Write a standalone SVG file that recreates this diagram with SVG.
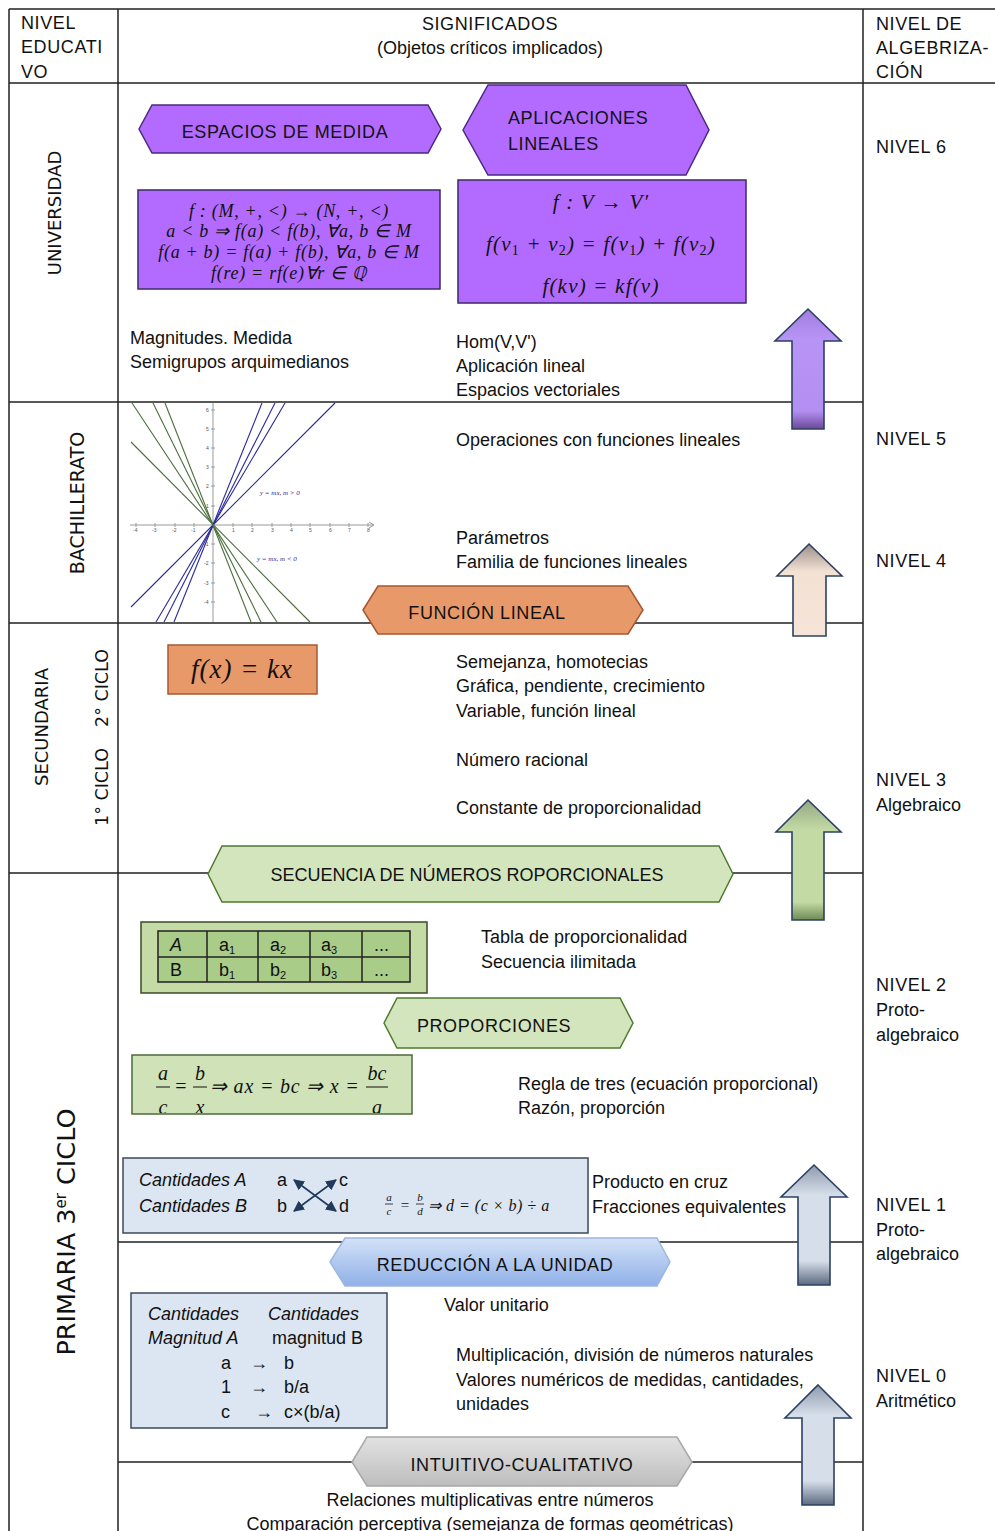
<svg xmlns="http://www.w3.org/2000/svg" width="995" height="1531" viewBox="0 0 995 1531">
<style>
.t{font-family:"Liberation Sans",Arial,sans-serif;font-size:18px;fill:#111}
.u{letter-spacing:0.6px}
.i{font-style:italic}
.c{text-anchor:middle}
.v{font-family:"DejaVu Sans",Verdana,sans-serif;font-size:18px;fill:#111}
.m{font-family:"Liberation Serif","Times New Roman",serif;font-style:italic;fill:#111}
.grid{stroke:#222;stroke-width:1.5;fill:none}
.arr{stroke:#2b4163;stroke-width:1.6}
.hp{fill:#b36bff;stroke:#4a2a80;stroke-width:1.5}
.ho{fill:#e8996a;stroke:#a8552d;stroke-width:1.5}
.hg{fill:#d3e5bd;stroke:#4e7a2e;stroke-width:1.5}
.tick{font-family:"Liberation Sans",Arial,sans-serif;font-size:5px;fill:#555}
</style>
<defs>
<linearGradient id="gP" x1="0" y1="0" x2="0" y2="1"><stop offset="0" stop-color="#a07ee0"/><stop offset="0.25" stop-color="#b794f6"/><stop offset="0.85" stop-color="#b48ff2"/><stop offset="1" stop-color="#6b4896"/></linearGradient>
<linearGradient id="gB" x1="0" y1="0" x2="0" y2="1"><stop offset="0" stop-color="#9a8f88"/><stop offset="0.3" stop-color="#f3e2d4"/><stop offset="1" stop-color="#f5e4d7"/></linearGradient>
<linearGradient id="gG" x1="0" y1="0" x2="0" y2="1"><stop offset="0" stop-color="#94a882"/><stop offset="0.25" stop-color="#c3daa4"/><stop offset="0.85" stop-color="#c3daa4"/><stop offset="1" stop-color="#6f8a55"/></linearGradient>
<linearGradient id="gS" x1="0" y1="0" x2="0" y2="1"><stop offset="0" stop-color="#8e9aae"/><stop offset="0.25" stop-color="#d6dee9"/><stop offset="0.8" stop-color="#d6dee9"/><stop offset="1" stop-color="#5c6a80"/></linearGradient>
<linearGradient id="gR" x1="0" y1="0" x2="0" y2="1"><stop offset="0" stop-color="#d3e2f7"/><stop offset="1" stop-color="#8fb0e8"/></linearGradient>
<linearGradient id="gI" x1="0" y1="0" x2="0" y2="1"><stop offset="0" stop-color="#e2e2e2"/><stop offset="1" stop-color="#bdbdbd"/></linearGradient>
<marker id="ah" viewBox="0 0 10 10" refX="9" refY="5" markerWidth="11" markerHeight="11" markerUnits="userSpaceOnUse" orient="auto-start-reverse"><path d="M0,0 L10,5 L0,10 z" fill="#1f3a5a"/></marker>
<clipPath id="clipF"><rect x="132" y="1055" width="280" height="58"/></clipPath>
</defs>

<!-- table grid -->
<g id="grid">
<path class="grid" d="M9,9 H995 M9,83 H995 M9,9 V1531 M118,9 V1531 M863,9 V1531"/>
<path class="grid" d="M9,402 H863 M9,623 H863 M9,873 H863 M118,1242 H863 M118,1462 H863"/>
</g>

<!-- headers -->
<g id="header">
<text class="t u" x="21" y="29">NIVEL</text>
<text class="t u" x="21" y="53">EDUCATI</text>
<text class="t u" x="21" y="78">VO</text>
<text class="t c u" x="490" y="30">SIGNIFICADOS</text>
<text class="t c" x="490" y="54">(Objetos críticos implicados)</text>
<text class="t u" x="876" y="30">NIVEL DE</text>
<text class="t u" x="876" y="54">ALGEBRIZA-</text>
<text class="t u" x="876" y="78">CIÓN</text>
</g>

<!-- row labels -->
<g id="labels">
<text class="v c" transform="translate(61,213) rotate(-90)">UNIVERSIDAD</text>
<text class="v c" style="font-size:19px" transform="translate(84,503) rotate(-90)">BACHILLERATO</text>
<text class="v c" transform="translate(48,727) rotate(-90)">SECUNDARIA</text>
<text class="v c" style="font-size:17.5px" transform="translate(108,688) rotate(-90)">2° CICLO</text>
<text class="v c" style="font-size:17.5px" transform="translate(108,787) rotate(-90)">1° CICLO</text>
<text class="v c" style="font-size:25.5px" transform="translate(75,1232) rotate(-90)">PRIMARIA 3<tspan dy="-9" style="font-size:15px">er</tspan><tspan dy="9"> CICLO</tspan></text>
</g>

<!-- level labels -->
<g id="levels">
<text class="t u" x="876" y="153">NIVEL 6</text>
<text class="t u" x="876" y="445">NIVEL 5</text>
<text class="t u" x="876" y="567">NIVEL 4</text>
<text class="t u" x="876" y="786">NIVEL 3</text>
<text class="t" x="876" y="811">Algebraico</text>
<text class="t u" x="876" y="991">NIVEL 2</text>
<text class="t" x="876" y="1016">Proto-</text>
<text class="t" x="876" y="1041">algebraico</text>
<text class="t u" x="876" y="1211">NIVEL 1</text>
<text class="t" x="876" y="1236">Proto-</text>
<text class="t" x="876" y="1260">algebraico</text>
<text class="t u" x="876" y="1382">NIVEL 0</text>
<text class="t" x="876" y="1407">Aritmético</text>
</g>

<!-- UNIVERSIDAD -->
<g id="espacios-medida">
<polygon class="hp" points="139,129 152,105 428,105 441,129 428,153 152,153"/>
<text class="t c u" x="285" y="138">ESPACIOS DE MEDIDA</text>
</g>
<g id="aplicaciones-lineales">
<polygon class="hp" points="463,130 488,85 686,85 709,130 686,175 488,175"/>
<text class="t u" x="508" y="124">APLICACIONES</text>
<text class="t u" x="508" y="150">LINEALES</text>
</g>
<g id="formula-medida">
<rect x="138" y="190" width="302" height="99" fill="#b36bff" stroke="#3d2a66" stroke-width="1.5"/>
<g class="m" font-size="18" letter-spacing="0.7" text-anchor="middle">
<text x="289" y="217">f : (M, +, &lt;) → (N, +, &lt;)</text>
<text x="289" y="237">a &lt; b  ⇒  f(a) &lt; f(b), ∀a, b ∈ M</text>
<text x="289" y="258">f(a + b) = f(a) + f(b), ∀a, b ∈ M</text>
<text x="289" y="279">f(re) = rf(e)∀r ∈ ℚ</text>
</g>
</g>
<g id="formula-lineal">
<rect x="458" y="180" width="288" height="123" fill="#b36bff" stroke="#3d2a66" stroke-width="1.5"/>
<g class="m" font-size="21" letter-spacing="1.2" text-anchor="middle">
<text x="601" y="209">f : V → V′</text>
<text x="601" y="251">f(v<tspan font-size="14" dy="4" font-style="normal">1</tspan><tspan dy="-4"> + v</tspan><tspan font-size="14" dy="4" font-style="normal">2</tspan><tspan dy="-4">) = f(v</tspan><tspan font-size="14" dy="4" font-style="normal">1</tspan><tspan dy="-4">) + f(v</tspan><tspan font-size="14" dy="4" font-style="normal">2</tspan><tspan dy="-4">)</tspan></text>
<text x="601" y="293">f(kv) = kf(v)</text>
</g>
</g>
<g id="texto-univ">
<text class="t" x="130" y="344">Magnitudes. Medida</text>
<text class="t" x="130" y="368">Semigrupos arquimedianos</text>
<text class="t" x="456" y="348">Hom(V,V')</text>
<text class="t" x="456" y="372">Aplicación lineal</text>
<text class="t" x="456" y="396">Espacios vectoriales</text>
</g>

<!-- BACHILLERATO graph -->
<g id="grafica">
<g stroke="#999" stroke-width="1" fill="none">
<path d="M213,403 V622 M130,525 H373"/>
<path d="M369,522 L374,525 L369,528" />
<path d="M136,523 v4 M155,523 v4 M175,523 v4 M194,523 v4 M233,523 v4 M252,523 v4 M272,523 v4 M291,523 v4 M310,523 v4 M330,523 v4 M349,523 v4 M368,523 v4"/>
<path d="M211,410 h4 M211,429 h4 M211,448 h4 M211,467 h4 M211,486 h4 M211,506 h4 M211,544 h4 M211,563 h4 M211,583 h4 M211,602 h4"/>
</g>
<g class="tick">
<text x="133" y="532">-4</text><text x="152" y="532">-3</text><text x="172" y="532">-2</text><text x="191" y="532">-1</text>
<text x="232" y="532">1</text><text x="251" y="532">2</text><text x="271" y="532">3</text><text x="290" y="532">4</text><text x="309" y="532">5</text><text x="329" y="532">6</text><text x="348" y="532">7</text><text x="367" y="532">8</text>
<text x="206" y="412">6</text><text x="206" y="431">5</text><text x="206" y="450">4</text><text x="206" y="469">3</text><text x="206" y="488">2</text><text x="206" y="508">1</text>
<text x="204" y="546">-1</text><text x="204" y="565">-2</text><text x="204" y="585">-3</text><text x="204" y="604">-4</text>
</g>
<g stroke="#2a2a9a" stroke-width="1.1">
<line x1="262" y1="403" x2="174" y2="622"/>
<line x1="275" y1="403" x2="164" y2="622"/>
<line x1="285" y1="403" x2="156" y2="622"/>
<line x1="335" y1="403" x2="131" y2="607"/>
</g>
<g stroke="#4a6e3a" stroke-width="1.1">
<line x1="132" y1="403" x2="277" y2="622"/>
<line x1="153" y1="403" x2="261" y2="622"/>
<line x1="165" y1="403" x2="251" y2="622"/>
<line x1="131" y1="442" x2="310" y2="622"/>
</g>
<text x="260" y="495" font-family="Liberation Serif,serif" font-style="italic" font-size="7" fill="#2a2a9a">y = mx,   m &gt; 0</text>
<text x="257" y="561" font-family="Liberation Serif,serif" font-style="italic" font-size="7" fill="#2a2a9a">y = mx,   m &lt; 0</text>
</g>
<g id="texto-bach">
<text class="t" x="456" y="446">Operaciones  con funciones lineales</text>
<text class="t" x="456" y="544">Parámetros</text>
<text class="t" x="456" y="568">Familia de funciones lineales</text>
</g>
<g id="funcion-lineal">
<polygon class="ho" points="363,610 378,586 628,586 643,610 628,634 378,634"/>
<text class="t c u" x="487" y="619">FUNCIÓN LINEAL</text>
</g>

<!-- SECUNDARIA -->
<g id="fx-kx">
<rect x="168" y="645" width="149" height="49" fill="#e8996a" stroke="#a65a33" stroke-width="1.5"/>
<text class="m c" x="242" y="678" font-size="27" letter-spacing="1">f(x) = kx</text>
</g>
<g id="texto-sec">
<text class="t" x="456" y="668">Semejanza, homotecias</text>
<text class="t" x="456" y="692">Gráfica, pendiente, crecimiento</text>
<text class="t" x="456" y="717">Variable, función lineal</text>
<text class="t" x="456" y="766">Número racional</text>
<text class="t" x="456" y="814">Constante de proporcionalidad</text>
</g>
<g id="secuencia">
<polygon class="hg" points="208,874 222,846 719,846 733,874 719,902 222,902"/>
<text class="t c" x="467" y="881">SECUENCIA DE NÚMEROS ROPORCIONALES</text>
</g>

<!-- PRIMARIA -->
<g id="tabla">
<rect x="141" y="922" width="286" height="71" fill="#c5dba6" stroke="#3a4a2a" stroke-width="1.5"/>
<rect x="158" y="931" width="252" height="51" fill="#a9cc88" stroke="#222" stroke-width="1.5"/>
<path d="M158,957 H410 M207,931 V982 M258,931 V982 M310,931 V982 M362,931 V982" stroke="#222" stroke-width="1.5"/>
<text class="t i" x="170" y="951" font-size="16">A</text>
<text class="t" x="219" y="951" font-size="16">a<tspan font-size="11" dy="3">1</tspan></text>
<text class="t" x="270" y="951" font-size="16">a<tspan font-size="11" dy="3">2</tspan></text>
<text class="t" x="321" y="951" font-size="16">a<tspan font-size="11" dy="3">3</tspan></text>
<text class="t" x="374" y="951" font-size="11">...</text>
<text class="t" x="170" y="976" font-size="16">B</text>
<text class="t" x="219" y="976" font-size="16">b<tspan font-size="11" dy="3">1</tspan></text>
<text class="t" x="270" y="976" font-size="16">b<tspan font-size="11" dy="3">2</tspan></text>
<text class="t" x="321" y="976" font-size="16">b<tspan font-size="11" dy="3">3</tspan></text>
<text class="t" x="374" y="976" font-size="11">...</text>
</g>
<g id="texto-tabla">
<text class="t" x="481" y="943">Tabla de proporcionalidad</text>
<text class="t" x="481" y="968">Secuencia ilimitada</text>
</g>
<g id="proporciones">
<polygon class="hg" points="384,1023 397,998 620,998 633,1023 620,1048 397,1048"/>
<text class="t c u" x="494" y="1032">PROPORCIONES</text>
</g>
<g id="formula-regla">
<rect x="132" y="1055" width="280" height="59" fill="#cfe2b8" stroke="#4e6a3a" stroke-width="1.5"/>
<g clip-path="url(#clipF)" class="m" font-size="20">
<text x="163" y="1080" text-anchor="middle">a</text>
<line x1="156" y1="1087" x2="170" y2="1087" stroke="#111" stroke-width="1"/>
<text x="163" y="1114" text-anchor="middle">c</text>
<text x="181" y="1093" text-anchor="middle" font-style="normal">=</text>
<text x="200" y="1080" text-anchor="middle">b</text>
<line x1="193" y1="1087" x2="207" y2="1087" stroke="#111" stroke-width="1"/>
<text x="200" y="1114" text-anchor="middle">x</text>
<text x="210" y="1093" letter-spacing="0.8">⇒ ax = bc ⇒ x =</text>
<text x="377" y="1080" text-anchor="middle">bc</text>
<line x1="366" y1="1087" x2="388" y2="1087" stroke="#111" stroke-width="1"/>
<text x="377" y="1114" text-anchor="middle">a</text>
</g>
</g>
<g id="texto-regla">
<text class="t" x="518" y="1090">Regla de tres (ecuación proporcional)</text>
<text class="t" x="518" y="1114">Razón, proporción</text>
</g>
<g id="producto-cruz">
<rect x="123" y="1158" width="465" height="75" fill="#dce6f2" stroke="#3d4a5a" stroke-width="1.5"/>
<text class="t i" x="139" y="1186">Cantidades A</text>
<text class="t i" x="139" y="1212">Cantidades B</text>
<text class="t" x="277" y="1186">a</text>
<text class="t" x="339" y="1186">c</text>
<text class="t" x="277" y="1212">b</text>
<text class="t" x="339" y="1212">d</text>
<line x1="294" y1="1180" x2="336" y2="1211" stroke="#1f3a5a" stroke-width="1.6" marker-start="url(#ah)" marker-end="url(#ah)"/>
<line x1="336" y1="1180" x2="294" y2="1211" stroke="#1f3a5a" stroke-width="1.6" marker-start="url(#ah)" marker-end="url(#ah)"/>
<g class="m" font-size="11">
<text x="389" y="1201" text-anchor="middle">a</text>
<line x1="385" y1="1204" x2="393" y2="1204" stroke="#111" stroke-width="0.8"/>
<text x="389" y="1215" text-anchor="middle">c</text>
<text x="405" y="1210" text-anchor="middle" font-size="15" font-style="normal">=</text>
<text x="420" y="1201" text-anchor="middle">b</text>
<line x1="416" y1="1204" x2="424" y2="1204" stroke="#111" stroke-width="0.8"/>
<text x="420" y="1215" text-anchor="middle">d</text>
<text x="428" y="1211" font-size="16" letter-spacing="0.5">⇒ d = (c × b) ÷ a</text>
</g>
</g>
<g id="texto-cruz">
<text class="t" x="592" y="1188">Producto en cruz</text>
<text class="t" x="592" y="1213">Fracciones equivalentes</text>
</g>
<g id="reduccion">
<polygon points="330,1262 345,1238 657,1238 670,1262 657,1286 345,1286" fill="url(#gR)" stroke="#9db8e0" stroke-width="1.5"/>
<text class="t c u" x="495" y="1271">REDUCCIÓN A LA UNIDAD</text>
</g>
<g id="valor-unitario">
<rect x="131" y="1293" width="256" height="135" fill="#dce6f2" stroke="#3d4a5a" stroke-width="1.5"/>
<text class="t i" x="148" y="1320">Cantidades</text>
<text class="t i" x="268" y="1320">Cantidades</text>
<text class="t i" x="148" y="1344">Magnitud A</text>
<text class="t" x="272" y="1344">magnitud B</text>
<text class="t" x="221" y="1369">a</text>
<text class="t" x="250" y="1369">→</text>
<text class="t" x="284" y="1369">b</text>
<text class="t" x="221" y="1393">1</text>
<text class="t" x="250" y="1393">→</text>
<text class="t" x="284" y="1393">b/a</text>
<text class="t" x="221" y="1418">c</text>
<text class="t" x="255" y="1418">→</text>
<text class="t" x="284" y="1418">c×(b/a)</text>
</g>
<g id="texto-unidad">
<text class="t" x="444" y="1311">Valor unitario</text>
<text class="t" x="456" y="1361">Multiplicación, división de números naturales</text>
<text class="t" x="456" y="1386">Valores numéricos de medidas, cantidades,</text>
<text class="t" x="456" y="1410">unidades</text>
</g>
<g id="intuitivo">
<polygon points="352,1462 367,1437 677,1437 692,1462 677,1486 367,1486" fill="url(#gI)" stroke="#a8a8a8" stroke-width="1.5"/>
<text class="t c u" x="522" y="1471">INTUITIVO-CUALITATIVO</text>
</g>
<g id="texto-intuitivo">
<text class="t c" x="490" y="1506">Relaciones multiplicativas entre números</text>
<text class="t c" x="490" y="1530">Comparación perceptiva (semejanza de formas geométricas)</text>
</g>

<!-- level arrows -->
<g id="connectors">
<path class="arr" fill="url(#gP)" d="M808,309 L841,341 L824,341 L824,429 L792,429 L792,341 L775,341 Z"/>
<path class="arr" fill="url(#gB)" d="M809,544 L842,576 L826,576 L826,636 L793,636 L793,576 L777,576 Z"/>
<path class="arr" fill="url(#gG)" d="M808,800 L841,832 L824,832 L824,920 L792,920 L792,832 L776,832 Z"/>
<path class="arr" fill="url(#gS)" d="M814,1165 L847,1197 L830,1197 L830,1285 L798,1285 L798,1197 L781,1197 Z"/>
<path class="arr" fill="url(#gS)" d="M818,1385 L851,1418 L834,1418 L834,1505 L802,1505 L802,1418 L785,1418 Z"/>
</g>
</svg>
